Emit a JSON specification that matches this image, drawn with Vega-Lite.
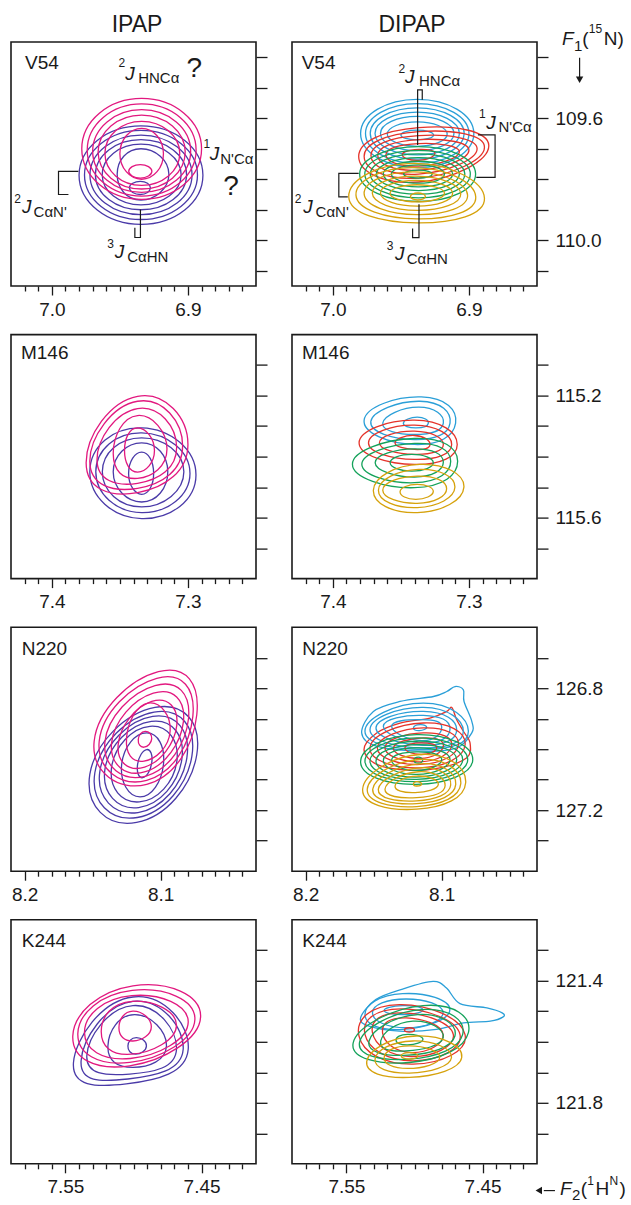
{
"$schema":"https://vega.github.io/schema/vega-lite/v6.json",
"padding":{"left":10,"top":13,"right":0,"bottom":0},
"autosize":{"type":"pad"},
"background":"white",
"config":{
"view":{"stroke":"#1a1a1a","strokeWidth":1.6},
"axis":{"domain":false,"grid":false,"tickColor":"#1a1a1a","tickWidth":1.3,"labelFont":"Liberation Sans","labelFontSize":19,"labelColor":"#1a1a1a","labelOverlap":false,"labelFlush":false,"labelBound":false},
"axisBottom":{"labelPadding":5},
"axisRight":{"tickSize":11,"labelPadding":7},
"text":{"font":"Liberation Sans","color":"#1a1a1a"}
},
"datasets":{
"d1":[
{"s":"b","c":1,"x":6.9345,"y":109.625},{"s":"b","c":1,"x":6.889,"y":109.787},{"s":"b","c":1,"x":6.9345,"y":109.948},{"s":"b","c":1,"x":6.98,"y":109.787},
{"s":"b","c":2,"x":6.9345,"y":109.64},{"s":"b","c":2,"x":6.893,"y":109.786},{"s":"b","c":2,"x":6.9345,"y":109.932},{"s":"b","c":2,"x":6.976,"y":109.786},
{"s":"b","c":3,"x":6.9345,"y":109.655},{"s":"b","c":3,"x":6.897,"y":109.786},{"s":"b","c":3,"x":6.9345,"y":109.916},{"s":"b","c":3,"x":6.972,"y":109.786},
{"s":"b","c":4,"x":6.9345,"y":109.67},{"s":"b","c":4,"x":6.901,"y":109.785},{"s":"b","c":4,"x":6.9345,"y":109.9},{"s":"b","c":4,"x":6.968,"y":109.785},
{"s":"b","c":5,"x":6.9345,"y":109.685},{"s":"b","c":5,"x":6.905,"y":109.785},{"s":"b","c":5,"x":6.9345,"y":109.884},{"s":"b","c":5,"x":6.963,"y":109.785},
{"s":"b","c":6,"x":6.9345,"y":109.7},{"s":"b","c":6,"x":6.914,"y":109.784},{"s":"b","c":6,"x":6.9345,"y":109.868},{"s":"b","c":6,"x":6.952,"y":109.784},
{"s":"b","c":7,"x":6.935,"y":109.807},{"s":"b","c":7,"x":6.9276,"y":109.828},{"s":"b","c":7,"x":6.935,"y":109.85},{"s":"b","c":7,"x":6.943,"y":109.828},
{"s":"m","c":1,"x":6.934,"y":109.535},{"s":"m","c":1,"x":6.89,"y":109.7},{"s":"m","c":1,"x":6.934,"y":109.866},{"s":"m","c":1,"x":6.978,"y":109.7},
{"s":"m","c":2,"x":6.934,"y":109.553},{"s":"m","c":2,"x":6.894,"y":109.704},{"s":"m","c":2,"x":6.934,"y":109.855},{"s":"m","c":2,"x":6.974,"y":109.704},
{"s":"m","c":3,"x":6.934,"y":109.572},{"s":"m","c":3,"x":6.898,"y":109.708},{"s":"m","c":3,"x":6.934,"y":109.843},{"s":"m","c":3,"x":6.97,"y":109.708},
{"s":"m","c":4,"x":6.934,"y":109.59},{"s":"m","c":4,"x":6.902,"y":109.711},{"s":"m","c":4,"x":6.934,"y":109.832},{"s":"m","c":4,"x":6.966,"y":109.711},
{"s":"m","c":5,"x":6.934,"y":109.61},{"s":"m","c":5,"x":6.906,"y":109.715},{"s":"m","c":5,"x":6.934,"y":109.82},{"s":"m","c":5,"x":6.961,"y":109.715},
{"s":"m","c":6,"x":6.934,"y":109.633},{"s":"m","c":6,"x":6.918,"y":109.716},{"s":"m","c":6,"x":6.934,"y":109.8},{"s":"m","c":6,"x":6.95,"y":109.716},
{"s":"m","c":7,"x":6.935,"y":109.752},{"s":"m","c":7,"x":6.9265,"y":109.774},{"s":"m","c":7,"x":6.935,"y":109.796},{"s":"m","c":7,"x":6.9435,"y":109.774}
],
"d2":[
{"s":"c","c":1,"x":6.938,"y":109.538},{"s":"c","c":1,"x":6.8964,"y":109.65},{"s":"c","c":1,"x":6.938,"y":109.762},{"s":"c","c":1,"x":6.9796,"y":109.65},
{"s":"c","c":2,"x":6.938,"y":109.552},{"s":"c","c":2,"x":6.9,"y":109.65},{"s":"c","c":2,"x":6.938,"y":109.748},{"s":"c","c":2,"x":6.976,"y":109.65},
{"s":"c","c":3,"x":6.938,"y":109.566},{"s":"c","c":3,"x":6.9035,"y":109.65},{"s":"c","c":3,"x":6.938,"y":109.734},{"s":"c","c":3,"x":6.9725,"y":109.65},
{"s":"c","c":4,"x":6.938,"y":109.58},{"s":"c","c":4,"x":6.907,"y":109.65},{"s":"c","c":4,"x":6.938,"y":109.72},{"s":"c","c":4,"x":6.969,"y":109.65},
{"s":"c","c":5,"x":6.938,"y":109.594},{"s":"c","c":5,"x":6.911,"y":109.65},{"s":"c","c":5,"x":6.938,"y":109.706},{"s":"c","c":5,"x":6.965,"y":109.65},
{"s":"c","c":6,"x":6.938,"y":109.612},{"s":"c","c":6,"x":6.916,"y":109.652},{"s":"c","c":6,"x":6.938,"y":109.692},{"s":"c","c":6,"x":6.96,"y":109.652},
{"s":"c","c":7,"x":6.938,"y":109.639},{"s":"c","c":7,"x":6.926,"y":109.655},{"s":"c","c":7,"x":6.938,"y":109.671},{"s":"c","c":7,"x":6.95,"y":109.655},
{"s":"r","c":1,"x":6.937,"y":109.631},{"s":"r","c":1,"x":6.8854,"y":109.69},{"s":"r","c":1,"x":6.937,"y":109.809},{"s":"r","c":1,"x":6.981,"y":109.725},
{"s":"r","c":2,"x":6.937,"y":109.644},{"s":"r","c":2,"x":6.8886,"y":109.695},{"s":"r","c":2,"x":6.937,"y":109.796},{"s":"r","c":2,"x":6.977,"y":109.725},
{"s":"r","c":3,"x":6.937,"y":109.657},{"s":"r","c":3,"x":6.894,"y":109.7},{"s":"r","c":3,"x":6.937,"y":109.783},{"s":"r","c":3,"x":6.972,"y":109.722},
{"s":"r","c":4,"x":6.937,"y":109.67},{"s":"r","c":4,"x":6.9,"y":109.705},{"s":"r","c":4,"x":6.937,"y":109.77},{"s":"r","c":4,"x":6.967,"y":109.722},
{"s":"r","c":5,"x":6.937,"y":109.683},{"s":"r","c":5,"x":6.907,"y":109.71},{"s":"r","c":5,"x":6.937,"y":109.757},{"s":"r","c":5,"x":6.961,"y":109.72},
{"s":"r","c":6,"x":6.937,"y":109.702},{"s":"r","c":6,"x":6.925,"y":109.715},{"s":"r","c":6,"x":6.937,"y":109.738},{"s":"r","c":6,"x":6.949,"y":109.72},
{"s":"g","c":1,"x":6.937,"y":109.693},{"s":"g","c":1,"x":6.8951,"y":109.783},{"s":"g","c":1,"x":6.937,"y":109.873},{"s":"g","c":1,"x":6.9803,"y":109.783},
{"s":"g","c":2,"x":6.937,"y":109.705},{"s":"g","c":2,"x":6.899,"y":109.783},{"s":"g","c":2,"x":6.937,"y":109.861},{"s":"g","c":2,"x":6.9765,"y":109.783},
{"s":"g","c":3,"x":6.937,"y":109.717},{"s":"g","c":3,"x":6.903,"y":109.783},{"s":"g","c":3,"x":6.937,"y":109.849},{"s":"g","c":3,"x":6.9725,"y":109.783},
{"s":"g","c":4,"x":6.937,"y":109.729},{"s":"g","c":4,"x":6.907,"y":109.783},{"s":"g","c":4,"x":6.937,"y":109.837},{"s":"g","c":4,"x":6.968,"y":109.783},
{"s":"g","c":5,"x":6.937,"y":109.741},{"s":"g","c":5,"x":6.912,"y":109.783},{"s":"g","c":5,"x":6.937,"y":109.825},{"s":"g","c":5,"x":6.963,"y":109.783},
{"s":"g","c":6,"x":6.937,"y":109.753},{"s":"g","c":6,"x":6.918,"y":109.783},{"s":"g","c":6,"x":6.937,"y":109.813},{"s":"g","c":6,"x":6.957,"y":109.783},
{"s":"g","c":7,"x":6.937,"y":109.77},{"s":"g","c":7,"x":6.927,"y":109.783},{"s":"g","c":7,"x":6.937,"y":109.796},{"s":"g","c":7,"x":6.948,"y":109.783},
{"s":"y","c":1,"x":6.94,"y":109.748},{"s":"y","c":1,"x":6.8886,"y":109.862},{"s":"y","c":1,"x":6.938,"y":109.943},{"s":"y","c":1,"x":6.9883,"y":109.858},
{"s":"y","c":2,"x":6.94,"y":109.762},{"s":"y","c":2,"x":6.895,"y":109.858},{"s":"y","c":2,"x":6.938,"y":109.93},{"s":"y","c":2,"x":6.983,"y":109.852},
{"s":"y","c":3,"x":6.94,"y":109.776},{"s":"y","c":3,"x":6.901,"y":109.852},{"s":"y","c":3,"x":6.938,"y":109.916},{"s":"y","c":3,"x":6.977,"y":109.848},
{"s":"y","c":4,"x":6.939,"y":109.79},{"s":"y","c":4,"x":6.906,"y":109.848},{"s":"y","c":4,"x":6.938,"y":109.902},{"s":"y","c":4,"x":6.971,"y":109.846},
{"s":"y","c":5,"x":6.939,"y":109.804},{"s":"y","c":5,"x":6.912,"y":109.846},{"s":"y","c":5,"x":6.938,"y":109.888},{"s":"y","c":5,"x":6.965,"y":109.846},
{"s":"y","c":6,"x":6.938,"y":109.818},{"s":"y","c":6,"x":6.918,"y":109.846},{"s":"y","c":6,"x":6.938,"y":109.874},{"s":"y","c":6,"x":6.958,"y":109.846},
{"s":"y","c":7,"x":6.9375,"y":109.845},{"s":"y","c":7,"x":6.932,"y":109.8565},{"s":"y","c":7,"x":6.9375,"y":109.868},{"s":"y","c":7,"x":6.943,"y":109.8565}
],
"d3":[
{"s":"b","c":1,"x":7.334,"y":115.3057},{"s":"b","c":1,"x":7.2941,"y":115.46},{"s":"b","c":1,"x":7.334,"y":115.6033},{"s":"b","c":1,"x":7.3721,"y":115.45},
{"s":"b","c":2,"x":7.334,"y":115.322},{"s":"b","c":2,"x":7.2985,"y":115.455},{"s":"b","c":2,"x":7.334,"y":115.5837},{"s":"b","c":2,"x":7.3677,"y":115.45},
{"s":"b","c":3,"x":7.334,"y":115.3384},{"s":"b","c":3,"x":7.303,"y":115.45},{"s":"b","c":3,"x":7.334,"y":115.5651},{"s":"b","c":3,"x":7.3629,"y":115.45},
{"s":"b","c":4,"x":7.334,"y":115.3548},{"s":"b","c":4,"x":7.3148,"y":115.45},{"s":"b","c":4,"x":7.334,"y":115.5488},{"s":"b","c":4,"x":7.3549,"y":115.45},
{"s":"b","c":5,"x":7.334,"y":115.3853},{"s":"b","c":5,"x":7.3252,"y":115.455},{"s":"b","c":5,"x":7.334,"y":115.5237},{"s":"b","c":5,"x":7.3436,"y":115.455},
{"s":"m","c":1,"x":7.337,"y":115.2022},{"s":"m","c":1,"x":7.3,"y":115.36},{"s":"m","c":1,"x":7.337,"y":115.5183},{"s":"m","c":1,"x":7.3748,"y":115.42},
{"s":"m","c":2,"x":7.337,"y":115.2185},{"s":"m","c":2,"x":7.3039,"y":115.365},{"s":"m","c":2,"x":7.337,"y":115.5041},{"s":"m","c":2,"x":7.3721,"y":115.415},
{"s":"m","c":3,"x":7.337,"y":115.2425},{"s":"m","c":3,"x":7.3083,"y":115.37},{"s":"m","c":3,"x":7.337,"y":115.4877},{"s":"m","c":3,"x":7.3668,"y":115.41},
{"s":"m","c":4,"x":7.337,"y":115.2654},{"s":"m","c":4,"x":7.3154,"y":115.375},{"s":"m","c":4,"x":7.337,"y":115.4714},{"s":"m","c":4,"x":7.3549,"y":115.39},
{"s":"m","c":5,"x":7.337,"y":115.3057},{"s":"m","c":5,"x":7.3246,"y":115.38},{"s":"m","c":5,"x":7.337,"y":115.4507},{"s":"m","c":5,"x":7.3466,"y":115.38}
],
"d4":[
{"s":"c","c":1,"x":7.335,"y":115.2044},{"s":"c","c":1,"x":7.3098,"y":115.29},{"s":"c","c":1,"x":7.34,"y":115.3602},{"s":"c","c":1,"x":7.377,"y":115.28},
{"s":"c","c":2,"x":7.336,"y":115.2185},{"s":"c","c":2,"x":7.3139,"y":115.29},{"s":"c","c":2,"x":7.34,"y":115.3439},{"s":"c","c":2,"x":7.3721,"y":115.285},
{"s":"c","c":3,"x":7.337,"y":115.2381},{"s":"c","c":3,"x":7.3188,"y":115.29},{"s":"c","c":3,"x":7.34,"y":115.3275},{"s":"c","c":3,"x":7.3633,"y":115.29},
{"s":"c","c":4,"x":7.338,"y":115.2708},{"s":"c","c":4,"x":7.3298,"y":115.29},{"s":"c","c":4,"x":7.339,"y":115.3057},{"s":"c","c":4,"x":7.3482,"y":115.29},
{"s":"r","c":1,"x":7.34,"y":115.2807},{"s":"r","c":1,"x":7.3086,"y":115.36},{"s":"r","c":1,"x":7.34,"y":115.4256},{"s":"r","c":1,"x":7.3807,"y":115.355},
{"s":"r","c":2,"x":7.34,"y":115.297},{"s":"r","c":2,"x":7.3127,"y":115.36},{"s":"r","c":2,"x":7.34,"y":115.4093},{"s":"r","c":2,"x":7.3738,"y":115.355},
{"s":"r","c":3,"x":7.34,"y":115.3166},{"s":"r","c":3,"x":7.3188,"y":115.36},{"s":"r","c":3,"x":7.34,"y":115.3929},{"s":"r","c":3,"x":7.3658,"y":115.355},
{"s":"r","c":4,"x":7.34,"y":115.3308},{"s":"r","c":4,"x":7.3286,"y":115.36},{"s":"r","c":4,"x":7.34,"y":115.3766},{"s":"r","c":4,"x":7.3543,"y":115.355},
{"s":"g","c":1,"x":7.34,"y":115.3406},{"s":"g","c":1,"x":7.3083,"y":115.415},{"s":"g","c":1,"x":7.34,"y":115.5019},{"s":"g","c":1,"x":7.3856,"y":115.425},
{"s":"g","c":2,"x":7.34,"y":115.3569},{"s":"g","c":2,"x":7.3134,"y":115.415},{"s":"g","c":2,"x":7.34,"y":115.4856},{"s":"g","c":2,"x":7.3787,"y":115.425},
{"s":"g","c":3,"x":7.34,"y":115.3744},{"s":"g","c":3,"x":7.3188,"y":115.418},{"s":"g","c":3,"x":7.34,"y":115.467},{"s":"g","c":3,"x":7.3689,"y":115.42},
{"s":"g","c":4,"x":7.342,"y":115.3929},{"s":"g","c":4,"x":7.3262,"y":115.42},{"s":"g","c":4,"x":7.342,"y":115.4474},{"s":"g","c":4,"x":7.3579,"y":115.42},
{"s":"y","c":1,"x":7.336,"y":115.4256},{"s":"y","c":1,"x":7.3037,"y":115.5},{"s":"y","c":1,"x":7.338,"y":115.5837},{"s":"y","c":1,"x":7.3702,"y":115.51},
{"s":"y","c":2,"x":7.337,"y":115.442},{"s":"y","c":2,"x":7.3103,"y":115.5},{"s":"y","c":2,"x":7.338,"y":115.5673},{"s":"y","c":2,"x":7.3665,"y":115.51},
{"s":"y","c":3,"x":7.338,"y":115.4638},{"s":"y","c":3,"x":7.3164,"y":115.505},{"s":"y","c":3,"x":7.338,"y":115.5531},{"s":"y","c":3,"x":7.3633,"y":115.51},
{"s":"y","c":4,"x":7.338,"y":115.491},{"s":"y","c":4,"x":7.3262,"y":115.515},{"s":"y","c":4,"x":7.339,"y":115.54},{"s":"y","c":4,"x":7.3506,"y":115.515}
],
"d5":[
{"s":"b","c":1,"x":8.1042,"y":126.863},{"s":"b","c":1,"x":8.0735,"y":127.0174},{"s":"b","c":1,"x":8.1177,"y":127.2402},{"s":"b","c":1,"x":8.1521,"y":127.0826},
{"s":"b","c":2,"x":8.1049,"y":126.8783},{"s":"b","c":2,"x":8.0771,"y":127.0228},{"s":"b","c":2,"x":8.1172,"y":127.2239},{"s":"b","c":2,"x":8.1484,"y":127.0772},
{"s":"b","c":3,"x":8.1059,"y":126.8924},{"s":"b","c":3,"x":8.0808,"y":127.0283},{"s":"b","c":3,"x":8.1167,"y":127.2076},{"s":"b","c":3,"x":8.1447,"y":127.0717},
{"s":"b","c":4,"x":8.1069,"y":126.9087},{"s":"b","c":4,"x":8.0845,"y":127.0337},{"s":"b","c":4,"x":8.1162,"y":127.1913},{"s":"b","c":4,"x":8.141,"y":127.0663},
{"s":"b","c":5,"x":8.1079,"y":126.925},{"s":"b","c":5,"x":8.0882,"y":127.0413},{"s":"b","c":5,"x":8.1157,"y":127.1728},{"s":"b","c":5,"x":8.1361,"y":127.0587},
{"s":"b","c":6,"x":8.1103,"y":126.9467},{"s":"b","c":6,"x":8.098,"y":127.05},{"s":"b","c":6,"x":8.1152,"y":127.1565},{"s":"b","c":6,"x":8.1287,"y":127.05},
{"s":"b","c":7,"x":8.1103,"y":127.0011},{"s":"b","c":7,"x":8.1066,"y":127.0446},{"s":"b","c":7,"x":8.1133,"y":127.0935},{"s":"b","c":7,"x":8.117,"y":127.05},
{"s":"m","c":1,"x":8.1017,"y":126.7457},{"s":"m","c":1,"x":8.0735,"y":126.887},{"s":"m","c":1,"x":8.1103,"y":127.1152},{"s":"m","c":1,"x":8.1489,"y":126.9739},
{"s":"m","c":2,"x":8.1029,"y":126.7674},{"s":"m","c":2,"x":8.0764,"y":126.8924},{"s":"m","c":2,"x":8.1103,"y":127.1022},{"s":"m","c":2,"x":8.1452,"y":126.9739},
{"s":"m","c":3,"x":8.1042,"y":126.7913},{"s":"m","c":3,"x":8.0796,"y":126.9},{"s":"m","c":3,"x":8.1108,"y":127.088},{"s":"m","c":3,"x":8.141,"y":126.9761},
{"s":"m","c":4,"x":8.1054,"y":126.8163},{"s":"m","c":4,"x":8.0833,"y":126.9087},{"s":"m","c":4,"x":8.1113,"y":127.0739},{"s":"m","c":4,"x":8.1361,"y":126.9793},
{"s":"m","c":5,"x":8.1066,"y":126.8435},{"s":"m","c":5,"x":8.0882,"y":126.9217},{"s":"m","c":5,"x":8.1118,"y":127.0587},{"s":"m","c":5,"x":8.1312,"y":126.9826},
{"s":"m","c":6,"x":8.1091,"y":126.8489},{"s":"m","c":6,"x":8.0931,"y":126.9413},{"s":"m","c":6,"x":8.1123,"y":127.0391},{"s":"m","c":6,"x":8.1251,"y":126.963},
{"s":"m","c":7,"x":8.1115,"y":126.9413},{"s":"m","c":7,"x":8.1066,"y":126.9652},{"s":"m","c":7,"x":8.1123,"y":126.9935},{"s":"m","c":7,"x":8.1165,"y":126.9685}
],
"f6":[
{"s":"c","c":1,"x":8.1588,"y":126.9467},{"s":"c","c":1,"x":8.1502,"y":126.8761},{"s":"c","c":1,"x":8.1306,"y":126.8435},{"s":"c","c":1,"x":8.1061,"y":126.8272},{"s":"c","c":1,"x":8.0963,"y":126.8109},{"s":"c","c":1,"x":8.0902,"y":126.7946},{"s":"c","c":1,"x":8.0841,"y":126.8054},{"s":"c","c":1,"x":8.0836,"y":126.8435},{"s":"c","c":1,"x":8.0779,"y":126.9087},{"s":"c","c":1,"x":8.0779,"y":126.9467},{"s":"c","c":1,"x":8.089,"y":126.9957},{"s":"c","c":1,"x":8.1135,"y":127.0065},{"s":"c","c":1,"x":8.1478,"y":126.9902},
{"s":"r","c":1,"x":8.1571,"y":127.0011},{"s":"r","c":1,"x":8.1478,"y":126.9467},{"s":"r","c":1,"x":8.1306,"y":126.9141},{"s":"r","c":1,"x":8.1086,"y":126.8978},{"s":"r","c":1,"x":8.0963,"y":126.8761},{"s":"r","c":1,"x":8.0926,"y":126.863},{"s":"r","c":1,"x":8.089,"y":126.9033},{"s":"r","c":1,"x":8.0841,"y":126.9413},{"s":"r","c":1,"x":8.0792,"y":126.9793},{"s":"r","c":1,"x":8.0816,"y":127.0283},{"s":"r","c":1,"x":8.1012,"y":127.0609},{"s":"r","c":1,"x":8.1257,"y":127.0685},{"s":"r","c":1,"x":8.1478,"y":127.05}
],
"d6":[
{"s":"c","c":2,"x":8.1135,"y":126.8489},{"s":"c","c":2,"x":8.0804,"y":126.9413},{"s":"c","c":2,"x":8.1135,"y":127.0011},{"s":"c","c":2,"x":8.1564,"y":126.9413},
{"s":"c","c":3,"x":8.1135,"y":126.863},{"s":"c","c":3,"x":8.0841,"y":126.9413},{"s":"c","c":3,"x":8.1135,"y":126.9957},{"s":"c","c":3,"x":8.1527,"y":126.9359},
{"s":"c","c":4,"x":8.1135,"y":126.8761},{"s":"c","c":4,"x":8.089,"y":126.9359},{"s":"c","c":4,"x":8.1135,"y":126.987},{"s":"c","c":4,"x":8.1483,"y":126.9304},
{"s":"c","c":5,"x":8.1135,"y":126.8891},{"s":"c","c":5,"x":8.0939,"y":126.9326},{"s":"c","c":5,"x":8.1135,"y":126.9793},{"s":"c","c":5,"x":8.1429,"y":126.925},
{"s":"c","c":6,"x":8.1147,"y":126.9033},{"s":"c","c":6,"x":8.1,"y":126.9283},{"s":"c","c":6,"x":8.1147,"y":126.9717},{"s":"c","c":6,"x":8.1368,"y":126.925},
{"s":"c","c":7,"x":8.1159,"y":126.9196},{"s":"c","c":7,"x":8.111,"y":126.9283},{"s":"c","c":7,"x":8.1164,"y":126.9391},{"s":"c","c":7,"x":8.1208,"y":126.9304},
{"s":"r","c":2,"x":8.1135,"y":126.9141},{"s":"r","c":2,"x":8.0828,"y":126.9848},{"s":"r","c":2,"x":8.1159,"y":127.0609},{"s":"r","c":2,"x":8.1527,"y":126.9957},
{"s":"r","c":3,"x":8.1135,"y":126.9304},{"s":"r","c":3,"x":8.0877,"y":126.9848},{"s":"r","c":3,"x":8.1159,"y":127.05},{"s":"r","c":3,"x":8.1473,"y":126.9935},
{"s":"r","c":4,"x":8.1135,"y":126.9467},{"s":"r","c":4,"x":8.0926,"y":126.987},{"s":"r","c":4,"x":8.1159,"y":127.0413},{"s":"r","c":4,"x":8.1417,"y":126.9935},
{"s":"r","c":5,"x":8.1135,"y":126.963},{"s":"r","c":5,"x":8.0988,"y":126.9902},{"s":"r","c":5,"x":8.1159,"y":127.0304},{"s":"r","c":5,"x":8.1355,"y":126.9957},
{"s":"r","c":6,"x":8.1147,"y":126.9793},{"s":"r","c":6,"x":8.1037,"y":126.9957},{"s":"r","c":6,"x":8.1152,"y":127.0174},{"s":"r","c":6,"x":8.127,"y":126.9957},
{"s":"g","c":1,"x":8.1184,"y":126.9522},{"s":"g","c":1,"x":8.0772,"y":127.0337},{"s":"g","c":1,"x":8.1184,"y":127.1152},{"s":"g","c":1,"x":8.1596,"y":127.0413},
{"s":"g","c":2,"x":8.1184,"y":126.963},{"s":"g","c":2,"x":8.0809,"y":127.0337},{"s":"g","c":2,"x":8.1184,"y":127.1065},{"s":"g","c":2,"x":8.1564,"y":127.0391},
{"s":"g","c":3,"x":8.1184,"y":126.9739},{"s":"g","c":3,"x":8.0846,"y":127.0337},{"s":"g","c":3,"x":8.1184,"y":127.0989},{"s":"g","c":3,"x":8.1527,"y":127.0391},
{"s":"g","c":4,"x":8.1184,"y":126.9848},{"s":"g","c":4,"x":8.089,"y":127.0337},{"s":"g","c":4,"x":8.1184,"y":127.0913},{"s":"g","c":4,"x":8.1483,"y":127.0391},
{"s":"g","c":5,"x":8.1184,"y":126.9957},{"s":"g","c":5,"x":8.0939,"y":127.0337},{"s":"g","c":5,"x":8.1184,"y":127.0826},{"s":"g","c":5,"x":8.1429,"y":127.037},
{"s":"g","c":6,"x":8.1184,"y":127.0087},{"s":"g","c":6,"x":8.1,"y":127.0337},{"s":"g","c":6,"x":8.1184,"y":127.0696},{"s":"g","c":6,"x":8.1368,"y":127.0359},
{"s":"g","c":7,"x":8.1172,"y":127.0261},{"s":"g","c":7,"x":8.114,"y":127.0359},{"s":"g","c":7,"x":8.1172,"y":127.0457},{"s":"g","c":7,"x":8.1203,"y":127.0359},
{"s":"y","c":1,"x":8.1159,"y":127.0174},{"s":"y","c":1,"x":8.0824,"y":127.1098},{"s":"y","c":1,"x":8.1184,"y":127.1967},{"s":"y","c":1,"x":8.1581,"y":127.1315},
{"s":"y","c":2,"x":8.1159,"y":127.0337},{"s":"y","c":2,"x":8.086,"y":127.113},{"s":"y","c":2,"x":8.1184,"y":127.188},{"s":"y","c":2,"x":8.1547,"y":127.1315},
{"s":"y","c":3,"x":8.1159,"y":127.0478},{"s":"y","c":3,"x":8.0897,"y":127.1152},{"s":"y","c":3,"x":8.1184,"y":127.1783},{"s":"y","c":3,"x":8.1507,"y":127.1315},
{"s":"y","c":4,"x":8.1159,"y":127.0609},{"s":"y","c":4,"x":8.0934,"y":127.1174},{"s":"y","c":4,"x":8.1184,"y":127.1696},{"s":"y","c":4,"x":8.1466,"y":127.1315},
{"s":"y","c":5,"x":8.1172,"y":127.0739},{"s":"y","c":5,"x":8.0975,"y":127.1196},{"s":"y","c":5,"x":8.1184,"y":127.1587},{"s":"y","c":5,"x":8.1417,"y":127.1315},
{"s":"y","c":6,"x":8.1184,"y":127.088},{"s":"y","c":6,"x":8.1025,"y":127.1152},{"s":"y","c":6,"x":8.1196,"y":127.1424},{"s":"y","c":6,"x":8.1343,"y":127.1207},
{"s":"y","c":7,"x":8.1184,"y":127.1065},{"s":"y","c":7,"x":8.1147,"y":127.1141},{"s":"y","c":7,"x":8.1184,"y":127.1207},{"s":"y","c":7,"x":8.1208,"y":127.1152}
],
"d7":[
{"s":"b","c":1,"x":7.5004,"y":121.4531},{"s":"b","c":1,"x":7.4598,"y":121.6244},{"s":"b","c":1,"x":7.5053,"y":121.7382},{"s":"b","c":1,"x":7.5441,"y":121.6678},
{"s":"b","c":2,"x":7.5004,"y":121.4672},{"s":"b","c":2,"x":7.4635,"y":121.6244},{"s":"b","c":2,"x":7.5041,"y":121.722},{"s":"b","c":2,"x":7.5385,"y":121.6623},
{"s":"b","c":3,"x":7.5004,"y":121.4813},{"s":"b","c":3,"x":7.4684,"y":121.6244},{"s":"b","c":3,"x":7.5028,"y":121.7057},{"s":"b","c":3,"x":7.5343,"y":121.6461},
{"s":"b","c":4,"x":7.4991,"y":121.5106},{"s":"b","c":4,"x":7.4758,"y":121.6136},{"s":"b","c":4,"x":7.5004,"y":121.684},{"s":"b","c":4,"x":7.5188,"y":121.6136},
{"s":"b","c":5,"x":7.4979,"y":121.5864},{"s":"b","c":5,"x":7.4905,"y":121.6136},{"s":"b","c":5,"x":7.4984,"y":121.6407},{"s":"b","c":5,"x":7.5041,"y":121.6136},
{"s":"m","c":1,"x":7.5004,"y":121.4163},{"s":"m","c":1,"x":7.4507,"y":121.5182},{"s":"m","c":1,"x":7.5028,"y":121.6786},{"s":"m","c":1,"x":7.5446,"y":121.581},
{"s":"m","c":2,"x":7.5009,"y":121.4314},{"s":"m","c":2,"x":7.4549,"y":121.5268},{"s":"m","c":2,"x":7.5028,"y":121.6678},{"s":"m","c":2,"x":7.5409,"y":121.5724},
{"s":"m","c":3,"x":7.5014,"y":121.4488},{"s":"m","c":3,"x":7.4598,"y":121.5355},{"s":"m","c":3,"x":7.5023,"y":121.6547},{"s":"m","c":3,"x":7.536,"y":121.568},
{"s":"m","c":4,"x":7.5009,"y":121.4672},{"s":"m","c":4,"x":7.4684,"y":121.5463},{"s":"m","c":4,"x":7.5016,"y":121.6407},{"s":"m","c":4,"x":7.5237,"y":121.5648},
{"s":"m","c":5,"x":7.5004,"y":121.4997},{"s":"m","c":5,"x":7.4869,"y":121.5507},{"s":"m","c":5,"x":7.5004,"y":121.5973},{"s":"m","c":5,"x":7.5107,"y":121.5539}
],
"f8":[
{"s":"c","c":1,"x":7.5396,"y":121.5214},{"s":"c","c":1,"x":7.5285,"y":121.4618},{"s":"c","c":1,"x":7.5087,"y":121.4271},{"s":"c","c":1,"x":7.4864,"y":121.4022},{"s":"c","c":1,"x":7.4765,"y":121.4238},{"s":"c","c":1,"x":7.4666,"y":121.4748},{"s":"c","c":1,"x":7.4468,"y":121.4889},{"s":"c","c":1,"x":7.4356,"y":121.5051},{"s":"c","c":1,"x":7.4349,"y":121.5182},{"s":"c","c":1,"x":7.4443,"y":121.5322},{"s":"c","c":1,"x":7.4641,"y":121.5377},{"s":"c","c":1,"x":7.4839,"y":121.5593},{"s":"c","c":1,"x":7.5111,"y":121.5648},{"s":"c","c":1,"x":7.5334,"y":121.5485}
],
"d8":[
{"s":"c","c":2,"x":7.5087,"y":121.4423},{"s":"c","c":2,"x":7.474,"y":121.4943},{"s":"c","c":2,"x":7.5087,"y":121.5593},{"s":"c","c":2,"x":7.5364,"y":121.5106},
{"s":"c","c":3,"x":7.5062,"y":121.4596},{"s":"c","c":3,"x":7.479,"y":121.5051},{"s":"c","c":3,"x":7.5062,"y":121.5539},{"s":"c","c":3,"x":7.5309,"y":121.5051},
{"s":"c","c":4,"x":7.5087,"y":121.4813},{"s":"c","c":4,"x":7.4938,"y":121.4943},{"s":"c","c":4,"x":7.5074,"y":121.5106},{"s":"c","c":4,"x":7.5223,"y":121.4976},
{"s":"r","c":1,"x":7.5111,"y":121.478},{"s":"r","c":1,"x":7.4629,"y":121.5756},{"s":"r","c":1,"x":7.5012,"y":121.6732},{"s":"r","c":1,"x":7.5408,"y":121.581},
{"s":"r","c":2,"x":7.5099,"y":121.4921},{"s":"r","c":2,"x":7.4666,"y":121.5756},{"s":"r","c":2,"x":7.5012,"y":121.6623},{"s":"r","c":2,"x":7.5364,"y":121.5756},
{"s":"r","c":3,"x":7.5087,"y":121.5051},{"s":"r","c":3,"x":7.4715,"y":121.5756},{"s":"r","c":3,"x":7.5025,"y":121.6482},{"s":"r","c":3,"x":7.5309,"y":121.5702},
{"s":"r","c":4,"x":7.5062,"y":121.5214},{"s":"r","c":4,"x":7.479,"y":121.5756},{"s":"r","c":4,"x":7.5025,"y":121.6352},{"s":"r","c":4,"x":7.5235,"y":121.5702},
{"s":"r","c":5,"x":7.5037,"y":121.5539},{"s":"r","c":5,"x":7.5,"y":121.5615},{"s":"r","c":5,"x":7.5037,"y":121.568},{"s":"r","c":5,"x":7.5074,"y":121.5615},
{"s":"g","c":1,"x":7.4938,"y":121.4813},{"s":"g","c":1,"x":7.4604,"y":121.5702},{"s":"g","c":1,"x":7.5037,"y":121.6678},{"s":"g","c":1,"x":7.545,"y":121.6027},
{"s":"g","c":2,"x":7.495,"y":121.4943},{"s":"g","c":2,"x":7.4646,"y":121.5756},{"s":"g","c":2,"x":7.5037,"y":121.6569},{"s":"g","c":2,"x":7.5403,"y":121.6005},
{"s":"g","c":3,"x":7.4975,"y":121.5106},{"s":"g","c":3,"x":7.4703,"y":121.581},{"s":"g","c":3,"x":7.505,"y":121.6439},{"s":"g","c":3,"x":7.5334,"y":121.5973},
{"s":"g","c":4,"x":7.5012,"y":121.5322},{"s":"g","c":4,"x":7.479,"y":121.5864},{"s":"g","c":4,"x":7.5062,"y":121.6298},{"s":"g","c":4,"x":7.5248,"y":121.5973},
{"s":"g","c":5,"x":7.505,"y":121.5756},{"s":"g","c":5,"x":7.4938,"y":121.5919},{"s":"g","c":5,"x":7.505,"y":121.6103},{"s":"g","c":5,"x":7.5136,"y":121.594},
{"s":"y","c":1,"x":7.4988,"y":121.581},{"s":"y","c":1,"x":7.4653,"y":121.6515},{"s":"y","c":1,"x":7.5037,"y":121.7165},{"s":"y","c":1,"x":7.5351,"y":121.6645},
{"s":"y","c":2,"x":7.5012,"y":121.5973},{"s":"y","c":2,"x":7.4728,"y":121.6515},{"s":"y","c":2,"x":7.5037,"y":121.7024},{"s":"y","c":2,"x":7.529,"y":121.6569},
{"s":"y","c":3,"x":7.5037,"y":121.6136},{"s":"y","c":3,"x":7.4814,"y":121.6515},{"s":"y","c":3,"x":7.505,"y":121.6873},{"s":"y","c":3,"x":7.5223,"y":121.6515},
{"s":"y","c":4,"x":7.5037,"y":121.6352},{"s":"y","c":4,"x":7.4975,"y":121.6461},{"s":"y","c":4,"x":7.5037,"y":121.6569},{"s":"y","c":4,"x":7.5099,"y":121.6461}
],
"t":[
{"p":1,"k":"T","t":"IPAP","x":6.9374,"y":109.3172},
{"p":1,"k":"n","t":"V54","x":7.0197,"y":109.437},
{"p":1,"k":"u","t":"2","x":6.951,"y":109.432},
{"p":1,"k":"i","t":"J","x":6.946,"y":109.475},
{"p":1,"k":"s","t":"HNCα","x":6.9366,"y":109.486},
{"p":1,"k":"q","t":"?","x":6.901,"y":109.466},
{"p":1,"k":"u","t":"1","x":6.8885,"y":109.698},
{"p":1,"k":"i","t":"J","x":6.884,"y":109.736},
{"p":1,"k":"s","t":"N'Cα","x":6.8763,"y":109.749},
{"p":1,"k":"q","t":"?","x":6.874,"y":109.85},
{"p":1,"k":"u","t":"2","x":7.0276,"y":109.877},
{"p":1,"k":"i","t":"J","x":7.022,"y":109.91},
{"p":1,"k":"s","t":"CαN'","x":7.0134,"y":109.923},
{"p":1,"k":"u","t":"3","x":6.9593,"y":110.024},
{"p":1,"k":"i","t":"J","x":6.9537,"y":110.059},
{"p":1,"k":"s","t":"CαHN","x":6.9446,"y":110.07},
{"p":2,"k":"T","t":"DIPAP","x":6.9418,"y":109.3172},
{"p":2,"k":"n","t":"V54","x":7.0229,"y":109.437},
{"p":2,"k":"u","t":"2","x":6.9518,"y":109.45},
{"p":2,"k":"i","t":"J","x":6.947,"y":109.485},
{"p":2,"k":"s","t":"HNCα","x":6.9367,"y":109.4937},
{"p":2,"k":"u","t":"1","x":6.8927,"y":109.6},
{"p":2,"k":"i","t":"J","x":6.8873,"y":109.636},
{"p":2,"k":"s","t":"N'Cα","x":6.8783,"y":109.646},
{"p":2,"k":"u","t":"2","x":7.028,"y":109.8795},
{"p":2,"k":"i","t":"J","x":7.0217,"y":109.912},
{"p":2,"k":"s","t":"CαN'","x":7.0127,"y":109.923},
{"p":2,"k":"u","t":"3","x":6.9603,"y":110.0329},
{"p":2,"k":"i","t":"J","x":6.9543,"y":110.0658},
{"p":2,"k":"s","t":"CαHN","x":6.9457,"y":110.0767},
{"p":2,"k":"i","t":"F","x":6.8316,"y":109.3589},
{"p":2,"k":"s","t":"1","x":6.8229,"y":109.3808},
{"p":2,"k":"n","t":"(","x":6.8167,"y":109.3589},
{"p":2,"k":"u","t":"15","x":6.8119,"y":109.3205},
{"p":2,"k":"n","t":"N)","x":6.801,"y":109.3589},
{"p":3,"k":"n","t":"M146","x":7.4227,"y":115.081},
{"p":4,"k":"n","t":"M146","x":7.4227,"y":115.081},
{"p":5,"k":"n","t":"N220","x":8.2021,"y":126.69},
{"p":6,"k":"n","t":"N220","x":8.2024,"y":126.69},
{"p":7,"k":"n","t":"K244","x":7.5821,"y":121.2905},
{"p":8,"k":"n","t":"K244","x":7.5824,"y":121.2905},
{"p":8,"k":"i","t":"F","x":7.3931,"y":122.1014},
{"p":8,"k":"s","t":"2","x":7.3842,"y":122.1187},
{"p":8,"k":"n","t":"(","x":7.3778,"y":122.1014},
{"p":8,"k":"u","t":"1","x":7.373,"y":122.0699},
{"p":8,"k":"n","t":"H","x":7.3671,"y":122.1014},
{"p":8,"k":"u","t":"N","x":7.3567,"y":122.0699},
{"p":8,"k":"n","t":")","x":7.3493,"y":122.1014}
],
"b":[
{"p":1,"id":1,"x":6.9805,"y":109.774},{"p":1,"id":1,"x":6.9951,"y":109.774},{"p":1,"id":1,"x":6.9951,"y":109.85},{"p":1,"id":1,"x":6.9878,"y":109.85},
{"p":1,"id":2,"x":6.9349,"y":109.899},{"p":1,"id":2,"x":6.9349,"y":109.991},{"p":1,"id":2,"x":6.939,"y":109.991},{"p":1,"id":2,"x":6.939,"y":109.959},
{"p":2,"id":3,"x":6.9377,"y":109.6877},{"p":2,"id":3,"x":6.9377,"y":109.5068},{"p":2,"id":3,"x":6.9343,"y":109.5068},{"p":2,"id":3,"x":6.9343,"y":109.5397},
{"p":2,"id":4,"x":6.8934,"y":109.6548},{"p":2,"id":4,"x":6.8808,"y":109.6548},{"p":2,"id":4,"x":6.8808,"y":109.794},{"p":2,"id":4,"x":6.8946,"y":109.794},
{"p":2,"id":5,"x":6.981,"y":109.7808},{"p":2,"id":5,"x":6.9956,"y":109.7808},{"p":2,"id":5,"x":6.9956,"y":109.8575},{"p":2,"id":5,"x":6.989,"y":109.8575},
{"p":2,"id":6,"x":6.9367,"y":109.8816},{"p":2,"id":6,"x":6.9367,"y":109.9912},{"p":2,"id":6,"x":6.9414,"y":109.9912},{"p":2,"id":6,"x":6.9414,"y":109.9616},
{"p":2,"id":7,"x":6.8187,"y":109.4016},{"p":2,"id":7,"x":6.8187,"y":109.466},
{"p":8,"id":8,"x":7.3968,"y":122.0878},{"p":8,"id":8,"x":7.405,"y":122.0878}
],
"h":[
{"p":2,"x":6.8187,"y":109.474},
{"p":8,"x":7.4087,"y":122.0878}
]
},
"columns":2,
"spacing":{"row":48.6,"column":36},
"bounds":"flush",
"concat":[
{"width":245,"height":244,
"encoding":{
"x":{"field":"x","type":"quantitative","scale":{"domain":[6.85,7.03],"reverse":true,"zero":false,"nice":false},"axis":{"title":null,"orient":"bottom","values":[7.02,7.01,7,6.99,6.98,6.97,6.96,6.95,6.94,6.93,6.92,6.91,6.9,6.89,6.88,6.87,6.86],"labelExpr":"datum.value==7||datum.value==6.9?format(datum.value,'.1f'):''","tickSize":{"condition":{"test":"datum.value==7||datum.value==6.9","value":9},"value":5}}},
"y":{"field":"y","type":"quantitative","scale":{"domain":[109.35,110.15],"reverse":true,"zero":false,"nice":false},"axis":{"title":null,"orient":"right","values":[109.4,109.5,109.6,109.7,109.8,109.9,110,110.1],"labels":false}}},
"layer":[
{"data":{"name":"d1"},"mark":{"type":"line","interpolate":"cardinal-closed","tension":-0.65,"strokeWidth":1.3},"encoding":{"color":{"field":"s","type":"nominal","scale":{"domain":["b","m","c","r","g","y"],"range":["#4a3aa8","#e2187f","#2a9fd8","#e5332a","#14a25a","#d6a20c"]},"legend":null},"detail":{"field":"c","type":"nominal"},"order":{"value":null}}},
{"data":{"name":"b"},"transform":[{"filter":"datum.p==1"}],"mark":{"type":"line","color":"#1a1a1a","strokeWidth":1.2},"encoding":{"detail":{"field":"id","type":"nominal"},"order":{"value":null}}},
{"data":{"name":"t"},"transform":[{"filter":"datum.p==1&&datum.k=='T'"}],"mark":{"type":"text","align":"center","baseline":"alphabetic","fontSize":23},"encoding":{"text":{"field":"t"}}},
{"data":{"name":"t"},"transform":[{"filter":"datum.p==1&&datum.k=='n'"}],"mark":{"type":"text","align":"left","baseline":"alphabetic","fontSize":19},"encoding":{"text":{"field":"t"}}},
{"data":{"name":"t"},"transform":[{"filter":"datum.p==1&&datum.k=='i'"}],"mark":{"type":"text","align":"left","baseline":"alphabetic","fontSize":19,"fontStyle":"italic"},"encoding":{"text":{"field":"t"}}},
{"data":{"name":"t"},"transform":[{"filter":"datum.p==1&&datum.k=='s'"}],"mark":{"type":"text","align":"left","baseline":"alphabetic","fontSize":15},"encoding":{"text":{"field":"t"}}},
{"data":{"name":"t"},"transform":[{"filter":"datum.p==1&&datum.k=='u'"}],"mark":{"type":"text","align":"left","baseline":"alphabetic","fontSize":12},"encoding":{"text":{"field":"t"}}},
{"data":{"name":"t"},"transform":[{"filter":"datum.p==1&&datum.k=='q'"}],"mark":{"type":"text","align":"left","baseline":"alphabetic","fontSize":28},"encoding":{"text":{"field":"t"}}}
]},
{"width":245,"height":244,
"encoding":{
"x":{"field":"x","type":"quantitative","scale":{"domain":[6.85,7.03],"reverse":true,"zero":false,"nice":false},"axis":{"title":null,"orient":"bottom","values":[7.02,7.01,7,6.99,6.98,6.97,6.96,6.95,6.94,6.93,6.92,6.91,6.9,6.89,6.88,6.87,6.86],"labelExpr":"datum.value==7||datum.value==6.9?format(datum.value,'.1f'):''","tickSize":{"condition":{"test":"datum.value==7||datum.value==6.9","value":9},"value":5}}},
"y":{"field":"y","type":"quantitative","scale":{"domain":[109.35,110.15],"reverse":true,"zero":false,"nice":false},"axis":{"title":null,"orient":"right","values":[109.4,109.5,109.6,109.7,109.8,109.9,110,110.1],"labelExpr":"datum.value==109.6||datum.value==110?format(datum.value,'.1f'):''"}}},
"layer":[
{"data":{"name":"d2"},"mark":{"type":"line","interpolate":"cardinal-closed","tension":-0.65,"strokeWidth":1.3},"encoding":{"color":{"field":"s","type":"nominal","legend":null},"detail":{"field":"c","type":"nominal"},"order":{"value":null}}},
{"data":{"name":"b"},"transform":[{"filter":"datum.p==2"}],"mark":{"type":"line","color":"#1a1a1a","strokeWidth":1.2},"encoding":{"detail":{"field":"id","type":"nominal"},"order":{"value":null}}},
{"data":{"name":"h"},"transform":[{"filter":"datum.p==2"}],"mark":{"type":"point","shape":"triangle-down","filled":true,"size":55,"color":"#1a1a1a","opacity":1}},
{"data":{"name":"t"},"transform":[{"filter":"datum.p==2&&datum.k=='T'"}],"mark":{"type":"text","align":"center","baseline":"alphabetic","fontSize":23},"encoding":{"text":{"field":"t"}}},
{"data":{"name":"t"},"transform":[{"filter":"datum.p==2&&datum.k=='n'"}],"mark":{"type":"text","align":"left","baseline":"alphabetic","fontSize":19},"encoding":{"text":{"field":"t"}}},
{"data":{"name":"t"},"transform":[{"filter":"datum.p==2&&datum.k=='i'"}],"mark":{"type":"text","align":"left","baseline":"alphabetic","fontSize":19,"fontStyle":"italic"},"encoding":{"text":{"field":"t"}}},
{"data":{"name":"t"},"transform":[{"filter":"datum.p==2&&datum.k=='s'"}],"mark":{"type":"text","align":"left","baseline":"alphabetic","fontSize":15},"encoding":{"text":{"field":"t"}}},
{"data":{"name":"t"},"transform":[{"filter":"datum.p==2&&datum.k=='u'"}],"mark":{"type":"text","align":"left","baseline":"alphabetic","fontSize":12},"encoding":{"text":{"field":"t"}}}
]},
{"width":245,"height":244,
"encoding":{
"x":{"field":"x","type":"quantitative","scale":{"domain":[7.25,7.43],"reverse":true,"zero":false,"nice":false},"axis":{"title":null,"orient":"bottom","values":[7.42,7.41,7.4,7.39,7.38,7.37,7.36,7.35,7.34,7.33,7.32,7.31,7.3,7.29,7.28,7.27,7.26],"labelExpr":"datum.value==7.4||datum.value==7.3?format(datum.value,'.1f'):''","tickSize":{"condition":{"test":"datum.value==7.4||datum.value==7.3","value":9},"value":5}}},
"y":{"field":"y","type":"quantitative","scale":{"domain":[115,115.8],"reverse":true,"zero":false,"nice":false},"axis":{"title":null,"orient":"right","values":[115.1,115.2,115.3,115.4,115.5,115.6,115.7],"labels":false}}},
"layer":[
{"data":{"name":"d3"},"mark":{"type":"line","interpolate":"cardinal-closed","tension":-0.65,"strokeWidth":1.3},"encoding":{"color":{"field":"s","type":"nominal","legend":null},"detail":{"field":"c","type":"nominal"},"order":{"value":null}}},
{"data":{"name":"t"},"transform":[{"filter":"datum.p==3&&datum.k=='n'"}],"mark":{"type":"text","align":"left","baseline":"alphabetic","fontSize":19},"encoding":{"text":{"field":"t"}}}
]},
{"width":245,"height":244,
"encoding":{
"x":{"field":"x","type":"quantitative","scale":{"domain":[7.25,7.43],"reverse":true,"zero":false,"nice":false},"axis":{"title":null,"orient":"bottom","values":[7.42,7.41,7.4,7.39,7.38,7.37,7.36,7.35,7.34,7.33,7.32,7.31,7.3,7.29,7.28,7.27,7.26],"labelExpr":"datum.value==7.4||datum.value==7.3?format(datum.value,'.1f'):''","tickSize":{"condition":{"test":"datum.value==7.4||datum.value==7.3","value":9},"value":5}}},
"y":{"field":"y","type":"quantitative","scale":{"domain":[115,115.8],"reverse":true,"zero":false,"nice":false},"axis":{"title":null,"orient":"right","values":[115.1,115.2,115.3,115.4,115.5,115.6,115.7],"labelExpr":"datum.value==115.2||datum.value==115.6?format(datum.value,'.1f'):''"}}},
"layer":[
{"data":{"name":"d4"},"mark":{"type":"line","interpolate":"cardinal-closed","tension":-0.65,"strokeWidth":1.3},"encoding":{"color":{"field":"s","type":"nominal","legend":null},"detail":{"field":"c","type":"nominal"},"order":{"value":null}}},
{"data":{"name":"t"},"transform":[{"filter":"datum.p==4&&datum.k=='n'"}],"mark":{"type":"text","align":"left","baseline":"alphabetic","fontSize":19},"encoding":{"text":{"field":"t"}}}
]},
{"width":245,"height":244,
"encoding":{
"x":{"field":"x","type":"quantitative","scale":{"domain":[8.03,8.21],"reverse":true,"zero":false,"nice":false},"axis":{"title":null,"orient":"bottom","values":[8.2,8.19,8.18,8.17,8.16,8.15,8.14,8.13,8.12,8.11,8.1,8.09,8.08,8.07,8.06,8.05,8.04],"labelExpr":"datum.value==8.2||datum.value==8.1?format(datum.value,'.1f'):''","tickSize":{"condition":{"test":"datum.value==8.2||datum.value==8.1","value":9},"value":5}}},
"y":{"field":"y","type":"quantitative","scale":{"domain":[126.6,127.4],"reverse":true,"zero":false,"nice":false},"axis":{"title":null,"orient":"right","values":[126.7,126.8,126.9,127,127.1,127.2,127.3],"labels":false}}},
"layer":[
{"data":{"name":"d5"},"mark":{"type":"line","interpolate":"cardinal-closed","tension":-0.65,"strokeWidth":1.3},"encoding":{"color":{"field":"s","type":"nominal","legend":null},"detail":{"field":"c","type":"nominal"},"order":{"value":null}}},
{"data":{"name":"t"},"transform":[{"filter":"datum.p==5&&datum.k=='n'"}],"mark":{"type":"text","align":"left","baseline":"alphabetic","fontSize":19},"encoding":{"text":{"field":"t"}}}
]},
{"width":245,"height":244,
"encoding":{
"x":{"field":"x","type":"quantitative","scale":{"domain":[8.03,8.21],"reverse":true,"zero":false,"nice":false},"axis":{"title":null,"orient":"bottom","values":[8.2,8.19,8.18,8.17,8.16,8.15,8.14,8.13,8.12,8.11,8.1,8.09,8.08,8.07,8.06,8.05,8.04],"labelExpr":"datum.value==8.2||datum.value==8.1?format(datum.value,'.1f'):''","tickSize":{"condition":{"test":"datum.value==8.2||datum.value==8.1","value":9},"value":5}}},
"y":{"field":"y","type":"quantitative","scale":{"domain":[126.6,127.4],"reverse":true,"zero":false,"nice":false},"axis":{"title":null,"orient":"right","values":[126.7,126.8,126.9,127,127.1,127.2,127.3],"labelExpr":"datum.value==126.8||datum.value==127.2?format(datum.value,'.1f'):''"}}},
"layer":[
{"data":{"name":"f6"},"mark":{"type":"line","interpolate":"cardinal-closed","tension":0,"strokeWidth":1.3},"encoding":{"color":{"field":"s","type":"nominal","legend":null},"detail":{"field":"c","type":"nominal"},"order":{"value":null}}},
{"data":{"name":"d6"},"mark":{"type":"line","interpolate":"cardinal-closed","tension":-0.65,"strokeWidth":1.3},"encoding":{"color":{"field":"s","type":"nominal","legend":null},"detail":{"field":"c","type":"nominal"},"order":{"value":null}}},
{"data":{"name":"t"},"transform":[{"filter":"datum.p==6&&datum.k=='n'"}],"mark":{"type":"text","align":"left","baseline":"alphabetic","fontSize":19},"encoding":{"text":{"field":"t"}}}
]},
{"width":245,"height":244,
"encoding":{
"x":{"field":"x","type":"quantitative","scale":{"domain":[7.41,7.59],"reverse":true,"zero":false,"nice":false},"axis":{"title":null,"orient":"bottom","values":[7.58,7.57,7.56,7.55,7.54,7.53,7.52,7.51,7.5,7.49,7.48,7.47,7.46,7.45,7.44,7.43,7.42],"labelExpr":"datum.value==7.55||datum.value==7.45?format(datum.value,'.2f'):''","tickSize":{"condition":{"test":"datum.value==7.55||datum.value==7.45","value":9},"value":5}}},
"y":{"field":"y","type":"quantitative","scale":{"domain":[121.2,122],"reverse":true,"zero":false,"nice":false},"axis":{"title":null,"orient":"right","values":[121.3,121.4,121.5,121.6,121.7,121.8,121.9],"labels":false}}},
"layer":[
{"data":{"name":"d7"},"mark":{"type":"line","interpolate":"cardinal-closed","tension":-0.65,"strokeWidth":1.3},"encoding":{"color":{"field":"s","type":"nominal","legend":null},"detail":{"field":"c","type":"nominal"},"order":{"value":null}}},
{"data":{"name":"t"},"transform":[{"filter":"datum.p==7&&datum.k=='n'"}],"mark":{"type":"text","align":"left","baseline":"alphabetic","fontSize":19},"encoding":{"text":{"field":"t"}}}
]},
{"width":245,"height":244,
"encoding":{
"x":{"field":"x","type":"quantitative","scale":{"domain":[7.41,7.59],"reverse":true,"zero":false,"nice":false},"axis":{"title":null,"orient":"bottom","values":[7.58,7.57,7.56,7.55,7.54,7.53,7.52,7.51,7.5,7.49,7.48,7.47,7.46,7.45,7.44,7.43,7.42],"labelExpr":"datum.value==7.55||datum.value==7.45?format(datum.value,'.2f'):''","tickSize":{"condition":{"test":"datum.value==7.55||datum.value==7.45","value":9},"value":5}}},
"y":{"field":"y","type":"quantitative","scale":{"domain":[121.2,122],"reverse":true,"zero":false,"nice":false},"axis":{"title":null,"orient":"right","values":[121.3,121.4,121.5,121.6,121.7,121.8,121.9],"labelExpr":"datum.value==121.4||datum.value==121.8?format(datum.value,'.1f'):''"}}},
"layer":[
{"data":{"name":"f8"},"mark":{"type":"line","interpolate":"cardinal-closed","tension":0,"strokeWidth":1.3},"encoding":{"color":{"field":"s","type":"nominal","legend":null},"detail":{"field":"c","type":"nominal"},"order":{"value":null}}},
{"data":{"name":"d8"},"mark":{"type":"line","interpolate":"cardinal-closed","tension":-0.65,"strokeWidth":1.3},"encoding":{"color":{"field":"s","type":"nominal","legend":null},"detail":{"field":"c","type":"nominal"},"order":{"value":null}}},
{"data":{"name":"b"},"transform":[{"filter":"datum.p==8"}],"mark":{"type":"line","color":"#1a1a1a","strokeWidth":1.2},"encoding":{"detail":{"field":"id","type":"nominal"},"order":{"value":null}}},
{"data":{"name":"h"},"transform":[{"filter":"datum.p==8"}],"mark":{"type":"point","shape":"triangle-left","filled":true,"size":55,"color":"#1a1a1a","opacity":1}},
{"data":{"name":"t"},"transform":[{"filter":"datum.p==8&&datum.k=='n'"}],"mark":{"type":"text","align":"left","baseline":"alphabetic","fontSize":19},"encoding":{"text":{"field":"t"}}},
{"data":{"name":"t"},"transform":[{"filter":"datum.p==8&&datum.k=='i'"}],"mark":{"type":"text","align":"left","baseline":"alphabetic","fontSize":19,"fontStyle":"italic"},"encoding":{"text":{"field":"t"}}},
{"data":{"name":"t"},"transform":[{"filter":"datum.p==8&&datum.k=='s'"}],"mark":{"type":"text","align":"left","baseline":"alphabetic","fontSize":15},"encoding":{"text":{"field":"t"}}},
{"data":{"name":"t"},"transform":[{"filter":"datum.p==8&&datum.k=='u'"}],"mark":{"type":"text","align":"left","baseline":"alphabetic","fontSize":12},"encoding":{"text":{"field":"t"}}}
]}
]
}
